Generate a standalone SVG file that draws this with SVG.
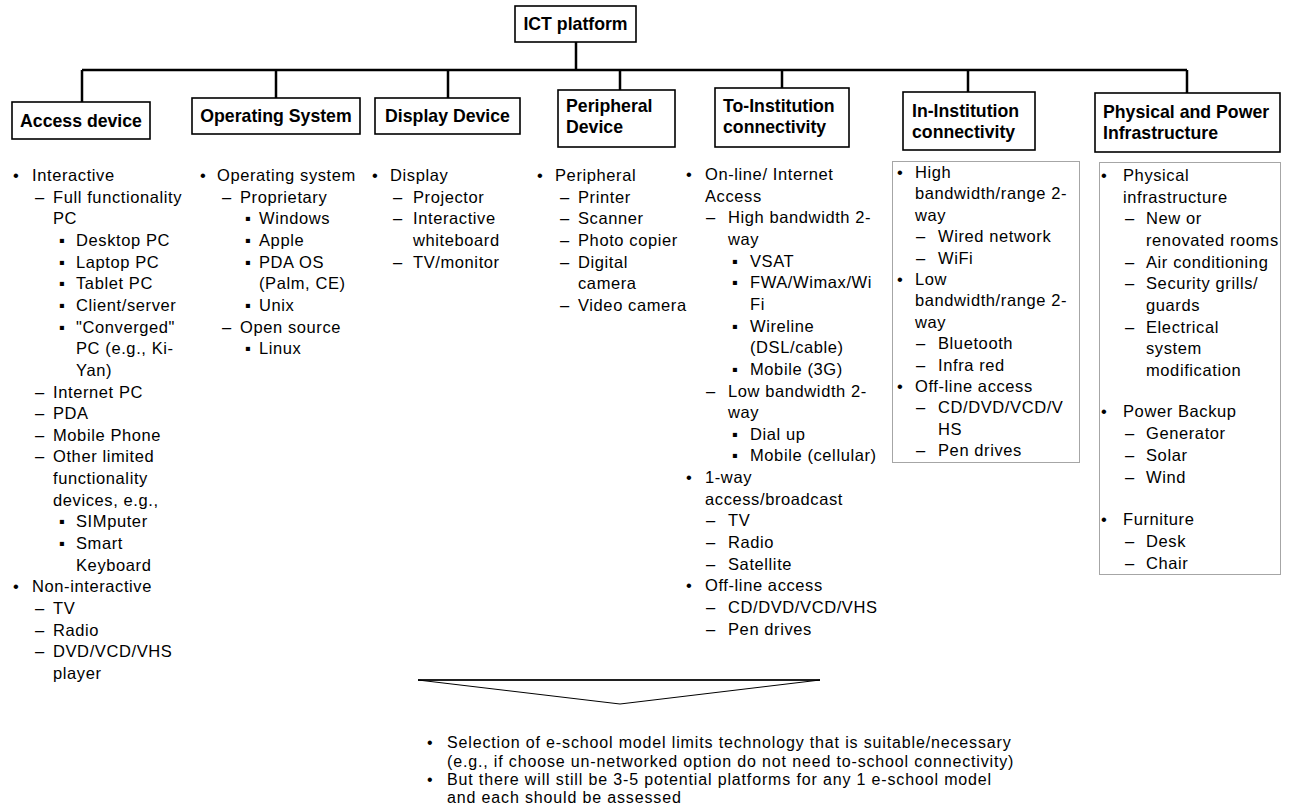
<svg xmlns="http://www.w3.org/2000/svg" width="1293" height="811" viewBox="0 0 1293 811">
<style>
.t{font-family:"Liberation Sans",Arial,sans-serif;font-size:16.5px;letter-spacing:0.6px;fill:#000}
.b{font-family:"Liberation Sans",Arial,sans-serif;font-size:16px;letter-spacing:0.85px;fill:#000}
.h{font-family:"Liberation Sans",Arial,sans-serif;font-weight:bold;font-size:17.7px;fill:#000}
.box{fill:#fff;stroke:#000;stroke-width:1.6}
.cbox{fill:none;stroke:#a6a6a6;stroke-width:1}
.conn{stroke:#000;stroke-width:2.5;fill:none}
</style>
<rect width="1293" height="811" fill="#fff"/>
<g id="connectors">
<path class="conn" d="M576,42 V70 M82,70 H1187 M82,70 V102 M276,70 V98 M448,70 V98 M620,70 V90 M782,70 V88 M968,70 V92 M1187,70 V93"/>
</g>
<g id="ict-platform">
<rect class="box" x="515" y="6" width="121" height="36"/>
<text class="h" x="575.5" y="30" text-anchor="middle">ICT platform</text>
</g>
<g id="access-device">
<rect class="box" x="12" y="102" width="138" height="37"/>
<text class="h" x="81" y="127" text-anchor="middle">Access device</text>
</g>
<g id="operating-system">
<rect class="box" x="192" y="98" width="168" height="36"/>
<text class="h" x="276" y="122" text-anchor="middle">Operating System</text>
</g>
<g id="display-device">
<rect class="box" x="375" y="98" width="145" height="36"/>
<text class="h" x="447.5" y="122" text-anchor="middle">Display Device</text>
</g>
<g id="peripheral-device">
<rect class="box" x="558" y="90" width="117" height="57"/>
<text class="h"><tspan x="566" y="112">Peripheral</tspan><tspan x="566" y="133">Device</tspan></text>
</g>
<g id="to-institution">
<rect class="box" x="715" y="88" width="134" height="59"/>
<text class="h"><tspan x="723" y="112">To-Institution</tspan><tspan x="723" y="133">connectivity</tspan></text>
</g>
<g id="in-institution">
<rect class="box" x="903" y="92" width="132" height="58"/>
<text class="h"><tspan x="912" y="117">In-Institution</tspan><tspan x="912" y="138">connectivity</tspan></text>
</g>
<g id="physical-power">
<rect class="box" x="1095" y="93" width="185" height="59"/>
<text class="h"><tspan x="1103" y="118">Physical and Power</tspan><tspan x="1103" y="139">Infrastructure</tspan></text>
</g>
<g id="access-list">
<text class="t">
<tspan x="13" y="181">•</tspan><tspan x="32" y="181">Interactive</tspan>
<tspan x="35" y="202.65">–</tspan><tspan x="53" y="202.65">Full functionality</tspan>
<tspan x="53" y="224.3">PC</tspan>
<tspan x="59" y="245.95">▪</tspan><tspan x="76" y="245.95">Desktop PC</tspan>
<tspan x="59" y="267.6">▪</tspan><tspan x="76" y="267.6">Laptop PC</tspan>
<tspan x="59" y="289.25">▪</tspan><tspan x="76" y="289.25">Tablet PC</tspan>
<tspan x="59" y="310.9">▪</tspan><tspan x="76" y="310.9">Client/server</tspan>
<tspan x="59" y="332.55">▪</tspan><tspan x="76" y="332.55">"Converged"</tspan>
<tspan x="76" y="354.2">PC (e.g., Ki-</tspan>
<tspan x="76" y="375.85">Yan)</tspan>
<tspan x="35" y="397.5">–</tspan><tspan x="53" y="397.5">Internet PC</tspan>
<tspan x="35" y="419.15">–</tspan><tspan x="53" y="419.15">PDA</tspan>
<tspan x="35" y="440.8">–</tspan><tspan x="53" y="440.8">Mobile Phone</tspan>
<tspan x="35" y="462.45">–</tspan><tspan x="53" y="462.45">Other limited</tspan>
<tspan x="53" y="484.1">functionality</tspan>
<tspan x="53" y="505.75">devices, e.g.,</tspan>
<tspan x="59" y="527.4">▪</tspan><tspan x="76" y="527.4">SIMputer</tspan>
<tspan x="59" y="549.05">▪</tspan><tspan x="76" y="549.05">Smart</tspan>
<tspan x="76" y="570.7">Keyboard</tspan>
<tspan x="13" y="592.35">•</tspan><tspan x="32" y="592.35">Non-interactive</tspan>
<tspan x="35" y="614">–</tspan><tspan x="53" y="614">TV</tspan>
<tspan x="35" y="635.65">–</tspan><tspan x="53" y="635.65">Radio</tspan>
<tspan x="35" y="657.3">–</tspan><tspan x="53" y="657.3">DVD/VCD/VHS</tspan>
<tspan x="53" y="678.95">player</tspan>
</text>
</g>
<g id="os-list">
<text class="t">
<tspan x="200" y="181">•</tspan><tspan x="217" y="181">Operating system</tspan>
<tspan x="222" y="202.65">–</tspan><tspan x="240" y="202.65">Proprietary</tspan>
<tspan x="245" y="224.3">▪</tspan><tspan x="259" y="224.3">Windows</tspan>
<tspan x="245" y="245.95">▪</tspan><tspan x="259" y="245.95">Apple</tspan>
<tspan x="245" y="267.6">▪</tspan><tspan x="259" y="267.6">PDA OS</tspan>
<tspan x="259" y="289.25">(Palm, CE)</tspan>
<tspan x="245" y="310.9">▪</tspan><tspan x="259" y="310.9">Unix</tspan>
<tspan x="222" y="332.55">–</tspan><tspan x="240" y="332.55">Open source</tspan>
<tspan x="245" y="354.2">▪</tspan><tspan x="259" y="354.2">Linux</tspan>
</text>
</g>
<g id="display-list">
<text class="t">
<tspan x="372" y="181">•</tspan><tspan x="390" y="181">Display</tspan>
<tspan x="393" y="202.65">–</tspan><tspan x="413" y="202.65">Projector</tspan>
<tspan x="393" y="224.3">–</tspan><tspan x="413" y="224.3">Interactive</tspan>
<tspan x="413" y="245.95">whiteboard</tspan>
<tspan x="393" y="267.6">–</tspan><tspan x="413" y="267.6">TV/monitor</tspan>
</text>
</g>
<g id="peripheral-list">
<text class="t">
<tspan x="537" y="181">•</tspan><tspan x="555" y="181">Peripheral</tspan>
<tspan x="560" y="202.65">–</tspan><tspan x="578" y="202.65">Printer</tspan>
<tspan x="560" y="224.3">–</tspan><tspan x="578" y="224.3">Scanner</tspan>
<tspan x="560" y="245.95">–</tspan><tspan x="578" y="245.95">Photo copier</tspan>
<tspan x="560" y="267.6">–</tspan><tspan x="578" y="267.6">Digital</tspan>
<tspan x="578" y="289.25">camera</tspan>
<tspan x="560" y="310.9">–</tspan><tspan x="578" y="310.9">Video camera</tspan>
</text>
</g>
<g id="to-institution-list">
<text class="t">
<tspan x="686" y="180">•</tspan><tspan x="705" y="180">On-line/ Internet</tspan>
<tspan x="705" y="201.65">Access</tspan>
<tspan x="706" y="223.3">–</tspan><tspan x="728" y="223.3">High bandwidth 2-</tspan>
<tspan x="728" y="244.95">way</tspan>
<tspan x="732" y="266.6">▪</tspan><tspan x="750" y="266.6">VSAT</tspan>
<tspan x="732" y="288.25">▪</tspan><tspan x="750" y="288.25">FWA/Wimax/Wi</tspan>
<tspan x="750" y="309.9">Fi</tspan>
<tspan x="732" y="331.55">▪</tspan><tspan x="750" y="331.55">Wireline</tspan>
<tspan x="750" y="353.2">(DSL/cable)</tspan>
<tspan x="732" y="374.85">▪</tspan><tspan x="750" y="374.85">Mobile (3G)</tspan>
<tspan x="706" y="396.5">–</tspan><tspan x="728" y="396.5">Low bandwidth 2-</tspan>
<tspan x="728" y="418.15">way</tspan>
<tspan x="732" y="439.8">▪</tspan><tspan x="750" y="439.8">Dial up</tspan>
<tspan x="732" y="461.45">▪</tspan><tspan x="750" y="461.45">Mobile (cellular)</tspan>
<tspan x="686" y="483.1">•</tspan><tspan x="705" y="483.1">1-way</tspan>
<tspan x="705" y="504.75">access/broadcast</tspan>
<tspan x="706" y="526.4">–</tspan><tspan x="728" y="526.4">TV</tspan>
<tspan x="706" y="548.05">–</tspan><tspan x="728" y="548.05">Radio</tspan>
<tspan x="706" y="569.7">–</tspan><tspan x="728" y="569.7">Satellite</tspan>
<tspan x="686" y="591.35">•</tspan><tspan x="705" y="591.35">Off-line access</tspan>
<tspan x="706" y="613">–</tspan><tspan x="728" y="613">CD/DVD/VCD/VHS</tspan>
<tspan x="706" y="634.65">–</tspan><tspan x="728" y="634.65">Pen drives</tspan>
</text>
</g>
<g id="in-institution-list">
<rect class="cbox" x="892.5" y="161.5" width="187" height="301"/>
<text class="t">
<tspan x="897" y="178">•</tspan><tspan x="915" y="178">High</tspan>
<tspan x="915" y="199.4">bandwidth/range 2-</tspan>
<tspan x="915" y="220.8">way</tspan>
<tspan x="916" y="242.2">–</tspan><tspan x="938" y="242.2">Wired network</tspan>
<tspan x="916" y="263.6">–</tspan><tspan x="938" y="263.6">WiFi</tspan>
<tspan x="897" y="285">•</tspan><tspan x="915" y="285">Low</tspan>
<tspan x="915" y="306.4">bandwidth/range 2-</tspan>
<tspan x="915" y="327.8">way</tspan>
<tspan x="916" y="349.2">–</tspan><tspan x="938" y="349.2">Bluetooth</tspan>
<tspan x="916" y="370.6">–</tspan><tspan x="938" y="370.6">Infra red</tspan>
<tspan x="897" y="392">•</tspan><tspan x="915" y="392">Off-line access</tspan>
<tspan x="916" y="413.4">–</tspan><tspan x="938" y="413.4">CD/DVD/VCD/V</tspan>
<tspan x="938" y="434.8">HS</tspan>
<tspan x="916" y="456.2">–</tspan><tspan x="938" y="456.2">Pen drives</tspan>
</text>
</g>
<g id="physical-list">
<rect class="cbox" x="1099.5" y="162.5" width="181" height="412"/>
<text class="t">
<tspan x="1101" y="181">•</tspan><tspan x="1123" y="181">Physical</tspan>
<tspan x="1123" y="202.65">infrastructure</tspan>
<tspan x="1125" y="224.3">–</tspan><tspan x="1146" y="224.3">New or</tspan>
<tspan x="1146" y="245.95">renovated rooms</tspan>
<tspan x="1125" y="267.6">–</tspan><tspan x="1146" y="267.6">Air conditioning</tspan>
<tspan x="1125" y="289.25">–</tspan><tspan x="1146" y="289.25">Security grills/</tspan>
<tspan x="1146" y="310.9">guards</tspan>
<tspan x="1125" y="332.55">–</tspan><tspan x="1146" y="332.55">Electrical</tspan>
<tspan x="1146" y="354.2">system</tspan>
<tspan x="1146" y="375.85">modification</tspan>
<tspan x="1101" y="417">•</tspan><tspan x="1123" y="417">Power Backup</tspan>
<tspan x="1125" y="439">–</tspan><tspan x="1146" y="439">Generator</tspan>
<tspan x="1125" y="461">–</tspan><tspan x="1146" y="461">Solar</tspan>
<tspan x="1125" y="483">–</tspan><tspan x="1146" y="483">Wind</tspan>
<tspan x="1101" y="525">•</tspan><tspan x="1123" y="525">Furniture</tspan>
<tspan x="1125" y="547">–</tspan><tspan x="1146" y="547">Desk</tspan>
<tspan x="1125" y="569">–</tspan><tspan x="1146" y="569">Chair</tspan>
</text>
</g>
<g id="conclusion-arrow">
<polygon points="418,680 820,680 620,704" fill="#fff" stroke="#000" stroke-width="1"/>
<line x1="418" y1="680" x2="820" y2="680" stroke="#000" stroke-width="1.6"/>
</g>
<g id="conclusion-text">
<text class="b">
<tspan x="427" y="748">•</tspan><tspan x="447" y="748">Selection of e-school model limits technology that is suitable/necessary</tspan>
<tspan x="447" y="766.5">(e.g., if choose un-networked option do not need to-school connectivity)</tspan>
<tspan x="427" y="785">•</tspan><tspan x="447" y="785">But there will still be 3-5 potential platforms for any 1 e-school model</tspan>
<tspan x="447" y="803">and each should be assessed</tspan>
</text>
</g>
</svg>
